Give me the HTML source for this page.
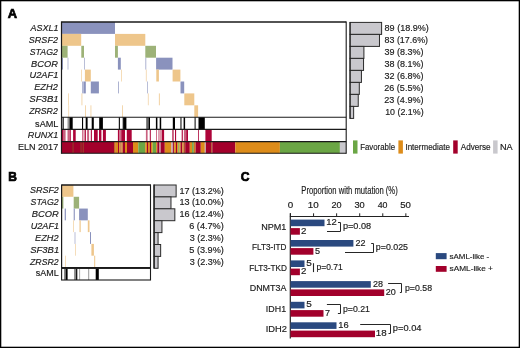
<!DOCTYPE html>
<html><head><meta charset="utf-8"><style>
html,body{margin:0;padding:0;background:#fff;}
svg{display:block;font-family:"Liberation Sans", sans-serif;will-change:transform;}
text{stroke:#1a1a1a;stroke-width:0.16px;paint-order:stroke;}

</style></head><body>
<svg width="520" height="348" viewBox="0 0 520 348">
<rect x="0" y="0" width="520" height="348" fill="#fff"/>
<text x="7.80" y="18.40" font-size="12.9" text-anchor="start" font-weight="bold" fill="#000" style="stroke:#000;stroke-width:0.7px">A</text>
<rect x="61.80" y="22.00" width="53.20" height="11.90" fill="#8a92bd" />
<rect x="61.80" y="33.90" width="19.40" height="11.90" fill="#eec68b" />
<rect x="115.00" y="33.90" width="30.30" height="11.90" fill="#eec68b" />
<rect x="61.80" y="45.80" width="5.80" height="11.90" fill="#9db278" />
<rect x="81.30" y="45.80" width="2.70" height="11.90" fill="#9db278" />
<rect x="115.00" y="45.80" width="2.90" height="11.90" fill="#9db278" />
<rect x="145.30" y="45.80" width="10.70" height="11.90" fill="#9db278" />
<rect x="61.80" y="57.70" width="1.00" height="11.90" fill="#7880ae" />
<rect x="67.70" y="57.70" width="0.60" height="11.90" fill="#8a92bd" />
<rect x="84.10" y="57.70" width="0.60" height="11.90" fill="#8a92bd" />
<rect x="117.90" y="57.70" width="2.90" height="11.90" fill="#8a92bd" />
<rect x="145.50" y="57.70" width="0.70" height="11.90" fill="#8a92bd" />
<rect x="156.10" y="57.70" width="16.40" height="11.90" fill="#8a92bd" />
<rect x="81.30" y="69.60" width="0.60" height="11.90" fill="#eec68b" />
<rect x="84.90" y="69.60" width="5.90" height="11.90" fill="#eec68b" />
<rect x="121.40" y="69.60" width="0.60" height="11.90" fill="#eec68b" />
<rect x="145.90" y="69.60" width="0.60" height="11.90" fill="#eec68b" />
<rect x="156.30" y="69.60" width="2.60" height="11.90" fill="#eec68b" />
<rect x="172.60" y="69.60" width="7.80" height="11.90" fill="#eec68b" />
<rect x="82.00" y="81.50" width="1.90" height="11.90" fill="#b3b8d4" />
<rect x="83.90" y="81.50" width="1.90" height="11.90" fill="#8a92bd" />
<rect x="90.80" y="81.50" width="8.10" height="11.90" fill="#8a92bd" />
<rect x="118.20" y="81.50" width="0.70" height="11.90" fill="#8a92bd" />
<rect x="147.30" y="81.50" width="0.60" height="11.90" fill="#8a92bd" />
<rect x="180.50" y="81.50" width="3.70" height="11.90" fill="#8a92bd" />
<rect x="68.00" y="93.40" width="0.60" height="11.90" fill="#eec68b" />
<rect x="81.60" y="93.40" width="0.70" height="11.90" fill="#eec68b" />
<rect x="147.90" y="93.40" width="0.60" height="11.90" fill="#eec68b" />
<rect x="158.90" y="93.40" width="0.80" height="11.90" fill="#eec68b" />
<rect x="184.30" y="93.40" width="10.00" height="11.90" fill="#eec68b" />
<rect x="68.50" y="105.30" width="0.60" height="11.90" fill="#eec68b" />
<rect x="85.00" y="105.30" width="0.70" height="11.90" fill="#eec68b" />
<rect x="90.60" y="105.30" width="0.70" height="11.90" fill="#eec68b" />
<rect x="122.20" y="105.30" width="0.70" height="11.90" fill="#eec68b" />
<rect x="194.30" y="105.30" width="3.80" height="11.90" fill="#eec68b" />
<rect x="61.50" y="117.20" width="0.60" height="12.20" fill="#888" />
<rect x="62.60" y="117.20" width="1.10" height="12.20" fill="#000" />
<rect x="67.50" y="117.20" width="1.10" height="12.20" fill="#999" />
<rect x="68.60" y="117.20" width="1.10" height="12.20" fill="#555" />
<rect x="69.70" y="117.20" width="3.00" height="12.20" fill="#000" />
<rect x="82.00" y="117.20" width="1.10" height="12.20" fill="#000" />
<rect x="85.70" y="117.20" width="1.90" height="12.20" fill="#000" />
<rect x="91.70" y="117.20" width="2.10" height="12.20" fill="#000" />
<rect x="99.20" y="117.20" width="3.70" height="12.20" fill="#000" />
<rect x="118.80" y="117.20" width="1.10" height="12.20" fill="#000" />
<rect x="122.50" y="117.20" width="0.60" height="12.20" fill="#666" />
<rect x="123.10" y="117.20" width="3.30" height="12.20" fill="#000" />
<rect x="146.20" y="117.20" width="2.30" height="12.20" fill="#666" />
<rect x="148.50" y="117.20" width="1.50" height="12.20" fill="#000" />
<rect x="155.90" y="117.20" width="1.50" height="12.20" fill="#000" />
<rect x="159.70" y="117.20" width="1.50" height="12.20" fill="#000" />
<rect x="172.80" y="117.20" width="2.20" height="12.20" fill="#000" />
<rect x="180.20" y="117.20" width="1.50" height="12.20" fill="#555" />
<rect x="183.60" y="117.20" width="1.50" height="12.20" fill="#000" />
<rect x="194.40" y="117.20" width="1.50" height="12.20" fill="#555" />
<rect x="198.50" y="117.20" width="6.30" height="12.20" fill="#000" />
<rect x="61.80" y="129.40" width="1.20" height="12.20" fill="#ad0439" />
<rect x="63.00" y="129.40" width="2.60" height="12.20" fill="#c9607f" />
<rect x="67.50" y="129.40" width="2.20" height="12.20" fill="#c9607f" />
<rect x="69.70" y="129.40" width="1.10" height="12.20" fill="#ad0439" />
<rect x="73.10" y="129.40" width="2.60" height="12.20" fill="#ad0439" />
<rect x="82.00" y="129.40" width="0.90" height="12.20" fill="#c9607f" />
<rect x="82.90" y="129.40" width="1.70" height="12.20" fill="#e6b3c0" />
<rect x="84.60" y="129.40" width="1.40" height="12.20" fill="#b8204f" />
<rect x="87.10" y="129.40" width="2.00" height="12.20" fill="#c9607f" />
<rect x="90.80" y="129.40" width="1.10" height="12.20" fill="#ad0439" />
<rect x="94.00" y="129.40" width="3.70" height="12.20" fill="#ad0439" />
<rect x="99.00" y="129.40" width="2.40" height="12.20" fill="#ad0439" />
<rect x="102.90" y="129.40" width="3.00" height="12.20" fill="#ad0439" />
<rect x="117.90" y="129.40" width="1.40" height="12.20" fill="#ad0439" />
<rect x="119.30" y="129.40" width="1.60" height="12.20" fill="#c9607f" />
<rect x="121.20" y="129.40" width="3.80" height="12.20" fill="#ad0439" />
<rect x="126.80" y="129.40" width="4.90" height="12.20" fill="#ad0439" />
<rect x="145.90" y="129.40" width="1.70" height="12.20" fill="#c9607f" />
<rect x="149.80" y="129.40" width="1.00" height="12.20" fill="#ad0439" />
<rect x="156.00" y="129.40" width="0.90" height="12.20" fill="#c9607f" />
<rect x="158.40" y="129.40" width="1.00" height="12.20" fill="#c9607f" />
<rect x="159.40" y="129.40" width="2.50" height="12.20" fill="#dc98aa" />
<rect x="161.90" y="129.40" width="2.20" height="12.20" fill="#ad0439" />
<rect x="172.00" y="129.40" width="1.90" height="12.20" fill="#c9607f" />
<rect x="175.00" y="129.40" width="1.10" height="12.20" fill="#ad0439" />
<rect x="181.70" y="129.40" width="1.10" height="12.20" fill="#ad0439" />
<rect x="183.90" y="129.40" width="2.30" height="12.20" fill="#c9607f" />
<rect x="186.20" y="129.40" width="1.80" height="12.20" fill="#ad0439" />
<rect x="198.10" y="129.40" width="0.80" height="12.20" fill="#ad0439" />
<rect x="205.40" y="129.40" width="6.30" height="12.20" fill="#ad0439" />
<rect x="61.80" y="141.60" width="52.20" height="11.70" fill="#a3002b" />
<rect x="72.60" y="141.60" width="0.90" height="11.70" fill="#8f4a28" />
<rect x="80.60" y="141.60" width="0.90" height="11.70" fill="#8f4a28" />
<rect x="82.80" y="141.60" width="0.80" height="11.70" fill="#9a5a28" />
<rect x="114.00" y="141.60" width="1.80" height="11.70" fill="#c86a20" />
<rect x="115.80" y="141.60" width="2.20" height="11.70" fill="#dd8c1a" />
<rect x="118.00" y="141.60" width="1.20" height="11.70" fill="#a3002b" />
<rect x="119.20" y="141.60" width="1.20" height="11.70" fill="#dd8c1a" />
<rect x="120.40" y="141.60" width="1.10" height="11.70" fill="#b4502a" />
<rect x="121.50" y="141.60" width="1.20" height="11.70" fill="#dd8c1a" />
<rect x="122.70" y="141.60" width="2.30" height="11.70" fill="#a3002b" />
<rect x="125.00" y="141.60" width="2.00" height="11.70" fill="#dd8c1a" />
<rect x="127.00" y="141.60" width="6.00" height="11.70" fill="#a3002b" />
<rect x="133.00" y="141.60" width="5.30" height="11.70" fill="#dd8c1a" />
<rect x="138.30" y="141.60" width="6.90" height="11.70" fill="#6ba645" />
<rect x="145.20" y="141.60" width="1.70" height="11.70" fill="#dd8c1a" />
<rect x="146.90" y="141.60" width="1.10" height="11.70" fill="#a3002b" />
<rect x="148.00" y="141.60" width="1.80" height="11.70" fill="#dd8c1a" />
<rect x="149.80" y="141.60" width="1.20" height="11.70" fill="#a3002b" />
<rect x="151.00" y="141.60" width="1.70" height="11.70" fill="#dd8c1a" />
<rect x="152.70" y="141.60" width="3.40" height="11.70" fill="#6ba645" />
<rect x="156.10" y="141.60" width="1.20" height="11.70" fill="#dd8c1a" />
<rect x="157.30" y="141.60" width="1.70" height="11.70" fill="#a3002b" />
<rect x="159.00" y="141.60" width="1.70" height="11.70" fill="#c88a9a" />
<rect x="160.70" y="141.60" width="4.10" height="11.70" fill="#a3002b" />
<rect x="164.80" y="141.60" width="6.50" height="11.70" fill="#dd8c1a" />
<rect x="171.30" y="141.60" width="1.80" height="11.70" fill="#c8a0a8" />
<rect x="173.10" y="141.60" width="1.10" height="11.70" fill="#a3002b" />
<rect x="174.20" y="141.60" width="1.80" height="11.70" fill="#dd8c1a" />
<rect x="176.00" y="141.60" width="1.10" height="11.70" fill="#a3002b" />
<rect x="177.10" y="141.60" width="1.20" height="11.70" fill="#dd8c1a" />
<rect x="178.30" y="141.60" width="1.10" height="11.70" fill="#6ba645" />
<rect x="179.40" y="141.60" width="1.20" height="11.70" fill="#dd8c1a" />
<rect x="180.60" y="141.60" width="1.70" height="11.70" fill="#a3002b" />
<rect x="182.30" y="141.60" width="1.20" height="11.70" fill="#dd8c1a" />
<rect x="183.50" y="141.60" width="1.70" height="11.70" fill="#b4502a" />
<rect x="185.20" y="141.60" width="4.60" height="11.70" fill="#a3002b" />
<rect x="189.80" y="141.60" width="2.30" height="11.70" fill="#dd8c1a" />
<rect x="192.10" y="141.60" width="1.70" height="11.70" fill="#6ba645" />
<rect x="193.80" y="141.60" width="1.80" height="11.70" fill="#d07a20" />
<rect x="195.60" y="141.60" width="5.20" height="11.70" fill="#a3002b" />
<rect x="200.80" y="141.60" width="4.00" height="11.70" fill="#dd8c1a" />
<rect x="204.80" y="141.60" width="1.20" height="11.70" fill="#c8a0a8" />
<rect x="206.00" y="141.60" width="5.10" height="11.70" fill="#a3002b" />
<rect x="211.10" y="141.60" width="1.20" height="11.70" fill="#b4502a" />
<rect x="212.30" y="141.60" width="23.00" height="11.70" fill="#a3002b" />
<rect x="235.30" y="141.60" width="44.60" height="11.70" fill="#dd8c1a" />
<rect x="279.90" y="141.60" width="60.00" height="11.70" fill="#6ba645" />
<rect x="339.90" y="141.60" width="6.10" height="11.70" fill="#c9c8cd" />
<line x1="61.50" y1="22.00" x2="346.20" y2="22.00" stroke="#1a1a1a" stroke-width="1.3"/>
<line x1="61.50" y1="117.20" x2="346.20" y2="117.20" stroke="#1a1a1a" stroke-width="1.1"/>
<line x1="61.50" y1="129.40" x2="346.20" y2="129.40" stroke="#1a1a1a" stroke-width="1.1"/>
<line x1="61.50" y1="141.60" x2="346.20" y2="141.60" stroke="#1a1a1a" stroke-width="1.1"/>
<line x1="61.50" y1="153.30" x2="346.20" y2="153.30" stroke="#1a1a1a" stroke-width="1.1"/>
<line x1="61.50" y1="21.40" x2="61.50" y2="153.80" stroke="#1a1a1a" stroke-width="1.2"/>
<line x1="346.20" y1="21.40" x2="346.20" y2="153.80" stroke="#1a1a1a" stroke-width="1.1"/>
<text x="30.62" y="30.80" font-size="8.9" text-anchor="start" font-style="italic" textLength="27.78" lengthAdjust="spacingAndGlyphs" fill="#1a1a1a" >ASXL1</text>
<text x="28.86" y="42.70" font-size="8.9" text-anchor="start" font-style="italic" textLength="29.03" lengthAdjust="spacingAndGlyphs" fill="#1a1a1a" >SRSF2</text>
<text x="29.79" y="54.70" font-size="8.9" text-anchor="start" font-style="italic" textLength="28.05" lengthAdjust="spacingAndGlyphs" fill="#1a1a1a" >STAG2</text>
<text x="31.12" y="66.50" font-size="8.9" text-anchor="start" font-style="italic" textLength="26.81" lengthAdjust="spacingAndGlyphs" fill="#1a1a1a" >BCOR</text>
<text x="29.52" y="78.30" font-size="8.9" text-anchor="start" font-style="italic" textLength="28.84" lengthAdjust="spacingAndGlyphs" fill="#1a1a1a" >U2AF1</text>
<text x="34.21" y="90.30" font-size="8.9" text-anchor="start" font-style="italic" textLength="23.61" lengthAdjust="spacingAndGlyphs" fill="#1a1a1a" >EZH2</text>
<text x="29.37" y="102.20" font-size="8.9" text-anchor="start" font-style="italic" textLength="29.25" lengthAdjust="spacingAndGlyphs" fill="#1a1a1a" >SF3B1</text>
<text x="29.14" y="114.10" font-size="8.9" text-anchor="start" font-style="italic" textLength="28.62" lengthAdjust="spacingAndGlyphs" fill="#1a1a1a" >ZRSR2</text>
<text x="35.08" y="126.50" font-size="8.9" text-anchor="start" textLength="23.30" lengthAdjust="spacingAndGlyphs" fill="#1a1a1a" >sAML</text>
<text x="27.82" y="138.20" font-size="8.9" text-anchor="start" font-style="italic" textLength="30.49" lengthAdjust="spacingAndGlyphs" fill="#1a1a1a" >RUNX1</text>
<text x="17.98" y="150.00" font-size="8.9" text-anchor="start" textLength="40.22" lengthAdjust="spacingAndGlyphs" fill="#1a1a1a" >ELN 2017</text>
<rect x="350.10" y="22.40" width="31.51" height="12.00" fill="#c9c8cd" stroke="#2a2a2a" stroke-width="1"/>
<text x="384.56" y="31.20" font-size="8.6" text-anchor="start" textLength="44.35" lengthAdjust="spacingAndGlyphs" fill="#1a1a1a" >89 (18.9%)</text>
<rect x="350.10" y="34.40" width="29.38" height="12.00" fill="#c9c8cd" stroke="#2a2a2a" stroke-width="1"/>
<text x="384.58" y="42.90" font-size="8.6" text-anchor="start" textLength="43.42" lengthAdjust="spacingAndGlyphs" fill="#1a1a1a" >83 (17.6%)</text>
<rect x="350.10" y="46.40" width="13.81" height="12.00" fill="#c9c8cd" stroke="#2a2a2a" stroke-width="1"/>
<text x="384.58" y="55.00" font-size="8.6" text-anchor="start" textLength="39.00" lengthAdjust="spacingAndGlyphs" fill="#1a1a1a" >39 (8.3%)</text>
<rect x="350.10" y="58.40" width="13.45" height="12.00" fill="#c9c8cd" stroke="#2a2a2a" stroke-width="1"/>
<text x="384.58" y="67.10" font-size="8.6" text-anchor="start" textLength="39.00" lengthAdjust="spacingAndGlyphs" fill="#1a1a1a" >38 (8.1%)</text>
<rect x="350.10" y="70.40" width="11.33" height="12.00" fill="#c9c8cd" stroke="#2a2a2a" stroke-width="1"/>
<text x="384.58" y="79.00" font-size="8.6" text-anchor="start" textLength="39.00" lengthAdjust="spacingAndGlyphs" fill="#1a1a1a" >32 (6.8%)</text>
<rect x="350.10" y="82.40" width="9.20" height="12.00" fill="#c9c8cd" stroke="#2a2a2a" stroke-width="1"/>
<text x="384.28" y="91.20" font-size="8.6" text-anchor="start" textLength="39.26" lengthAdjust="spacingAndGlyphs" fill="#1a1a1a" >26 (5.5%)</text>
<rect x="350.10" y="94.40" width="8.14" height="12.00" fill="#c9c8cd" stroke="#2a2a2a" stroke-width="1"/>
<text x="384.28" y="103.20" font-size="8.6" text-anchor="start" textLength="39.26" lengthAdjust="spacingAndGlyphs" fill="#1a1a1a" >23 (4.9%)</text>
<rect x="350.10" y="106.40" width="3.54" height="12.00" fill="#c9c8cd" stroke="#2a2a2a" stroke-width="1"/>
<text x="385.18" y="114.90" font-size="8.6" text-anchor="start" textLength="38.42" lengthAdjust="spacingAndGlyphs" fill="#1a1a1a" >10 (2.1%)</text>
<line x1="350.00" y1="22.00" x2="350.00" y2="118.80" stroke="#222" stroke-width="1.1"/>
<rect x="353.00" y="140.40" width="4.50" height="13.20" fill="#6ba645" />
<text x="360.15" y="149.60" font-size="8.3" text-anchor="start" textLength="34.93" lengthAdjust="spacingAndGlyphs" fill="#1a1a1a" >Favorable</text>
<rect x="398.40" y="140.40" width="4.50" height="13.20" fill="#dd8c1a" />
<text x="405.41" y="149.60" font-size="8.3" text-anchor="start" textLength="44.63" lengthAdjust="spacingAndGlyphs" fill="#1a1a1a" >Intermediate</text>
<rect x="453.20" y="140.40" width="4.50" height="13.20" fill="#a3002b" />
<text x="460.72" y="149.60" font-size="8.3" text-anchor="start" textLength="29.76" lengthAdjust="spacingAndGlyphs" fill="#1a1a1a" >Adverse</text>
<rect x="493.10" y="140.40" width="4.50" height="13.20" fill="#c9c8cd" />
<text x="500.03" y="149.60" font-size="8.3" text-anchor="start" textLength="12.70" lengthAdjust="spacingAndGlyphs" fill="#1a1a1a" >NA</text>
<text x="8.30" y="181.10" font-size="12.0" text-anchor="start" font-weight="bold" fill="#000" style="stroke:#000;stroke-width:0.7px">B</text>
<rect x="61.90" y="185.00" width="11.50" height="11.78" fill="#eec68b" />
<rect x="61.90" y="196.78" width="1.50" height="11.78" fill="#9db278" />
<rect x="73.70" y="196.78" width="5.40" height="11.78" fill="#9db278" />
<rect x="64.70" y="208.56" width="1.20" height="11.78" fill="#8a92bd" />
<rect x="73.70" y="208.56" width="1.10" height="11.78" fill="#8a92bd" />
<rect x="79.10" y="208.56" width="8.70" height="11.78" fill="#8a92bd" />
<rect x="73.40" y="220.34" width="0.60" height="11.78" fill="#eec68b" />
<rect x="79.50" y="220.34" width="1.20" height="11.78" fill="#eec68b" />
<rect x="87.80" y="220.34" width="1.70" height="11.78" fill="#eec68b" />
<rect x="74.70" y="232.12" width="0.60" height="11.78" fill="#8a92bd" />
<rect x="90.00" y="232.12" width="1.00" height="11.78" fill="#8a92bd" />
<rect x="75.30" y="243.90" width="0.60" height="11.78" fill="#eec68b" />
<rect x="91.40" y="243.90" width="2.50" height="11.78" fill="#eec68b" />
<rect x="65.40" y="255.68" width="0.60" height="11.78" fill="#eec68b" />
<rect x="94.20" y="255.68" width="1.00" height="11.78" fill="#eec68b" />
<rect x="64.00" y="268.40" width="1.60" height="11.60" fill="#888" />
<rect x="65.60" y="268.40" width="2.00" height="11.60" fill="#000" />
<rect x="74.10" y="268.40" width="2.00" height="11.60" fill="#888" />
<rect x="76.10" y="268.40" width="1.20" height="11.60" fill="#000" />
<rect x="79.10" y="268.40" width="1.00" height="11.60" fill="#aaa" />
<rect x="88.20" y="268.40" width="1.00" height="11.60" fill="#999" />
<rect x="95.70" y="268.40" width="3.10" height="11.60" fill="#000" />
<line x1="61.60" y1="185.00" x2="150.50" y2="185.00" stroke="#1a1a1a" stroke-width="1.3"/>
<line x1="61.60" y1="267.46" x2="150.50" y2="267.46" stroke="#1a1a1a" stroke-width="1.1"/>
<line x1="61.60" y1="184.40" x2="61.60" y2="267.96" stroke="#1a1a1a" stroke-width="1.2"/>
<line x1="150.50" y1="184.40" x2="150.50" y2="267.96" stroke="#1a1a1a" stroke-width="1.1"/>
<rect x="61.60" y="268.40" width="88.90" height="11.60" fill="none" stroke="#1a1a1a" stroke-width="1.1"/>
<text x="30.03" y="193.30" font-size="8.9" text-anchor="start" font-style="italic" textLength="28.82" lengthAdjust="spacingAndGlyphs" fill="#1a1a1a" >SRSF2</text>
<text x="30.59" y="205.20" font-size="8.9" text-anchor="start" font-style="italic" textLength="28.08" lengthAdjust="spacingAndGlyphs" fill="#1a1a1a" >STAG2</text>
<text x="31.82" y="217.00" font-size="8.9" text-anchor="start" font-style="italic" textLength="26.96" lengthAdjust="spacingAndGlyphs" fill="#1a1a1a" >BCOR</text>
<text x="30.70" y="228.90" font-size="8.9" text-anchor="start" font-style="italic" textLength="28.35" lengthAdjust="spacingAndGlyphs" fill="#1a1a1a" >U2AF1</text>
<text x="35.08" y="240.80" font-size="8.9" text-anchor="start" font-style="italic" textLength="23.52" lengthAdjust="spacingAndGlyphs" fill="#1a1a1a" >EZH2</text>
<text x="30.26" y="252.70" font-size="8.9" text-anchor="start" font-style="italic" textLength="28.94" lengthAdjust="spacingAndGlyphs" fill="#1a1a1a" >SF3B1</text>
<text x="30.05" y="264.50" font-size="8.9" text-anchor="start" font-style="italic" textLength="28.55" lengthAdjust="spacingAndGlyphs" fill="#1a1a1a" >ZRSR2</text>
<text x="35.79" y="276.40" font-size="8.9" text-anchor="start" textLength="22.88" lengthAdjust="spacingAndGlyphs" fill="#1a1a1a" >sAML</text>
<rect x="154.20" y="185.00" width="21.93" height="11.90" fill="#c9c8cd" stroke="#2a2a2a" stroke-width="1"/>
<text x="179.48" y="193.50" font-size="8.6" text-anchor="start" textLength="44.35" lengthAdjust="spacingAndGlyphs" fill="#1a1a1a" >17 (13.2%)</text>
<rect x="154.20" y="196.90" width="16.77" height="11.90" fill="#c9c8cd" stroke="#2a2a2a" stroke-width="1"/>
<text x="179.48" y="205.40" font-size="8.6" text-anchor="start" textLength="44.35" lengthAdjust="spacingAndGlyphs" fill="#1a1a1a" >13 (10.0%)</text>
<rect x="154.20" y="208.80" width="20.64" height="11.90" fill="#c9c8cd" stroke="#2a2a2a" stroke-width="1"/>
<text x="179.48" y="217.30" font-size="8.6" text-anchor="start" textLength="44.35" lengthAdjust="spacingAndGlyphs" fill="#1a1a1a" >16 (12.4%)</text>
<rect x="154.20" y="220.70" width="7.74" height="11.90" fill="#c9c8cd" stroke="#2a2a2a" stroke-width="1"/>
<text x="189.19" y="229.20" font-size="8.6" text-anchor="start" textLength="34.63" lengthAdjust="spacingAndGlyphs" fill="#1a1a1a" >6 (4.7%)</text>
<rect x="154.20" y="232.60" width="3.87" height="11.90" fill="#c9c8cd" stroke="#2a2a2a" stroke-width="1"/>
<text x="189.65" y="241.10" font-size="8.6" text-anchor="start" textLength="34.18" lengthAdjust="spacingAndGlyphs" fill="#1a1a1a" >3 (2.3%)</text>
<rect x="154.20" y="244.50" width="6.45" height="11.90" fill="#c9c8cd" stroke="#2a2a2a" stroke-width="1"/>
<text x="189.28" y="253.00" font-size="8.6" text-anchor="start" textLength="34.54" lengthAdjust="spacingAndGlyphs" fill="#1a1a1a" >5 (3.9%)</text>
<rect x="154.20" y="256.40" width="3.87" height="11.90" fill="#c9c8cd" stroke="#2a2a2a" stroke-width="1"/>
<text x="189.65" y="264.90" font-size="8.6" text-anchor="start" textLength="34.18" lengthAdjust="spacingAndGlyphs" fill="#1a1a1a" >3 (2.3%)</text>
<line x1="154.00" y1="184.60" x2="154.00" y2="268.50" stroke="#222" stroke-width="1.4"/>
<text x="240.70" y="181.30" font-size="12.1" text-anchor="start" font-weight="bold" fill="#000" style="stroke:#000;stroke-width:0.7px">C</text>
<text x="301.32" y="193.70" font-size="10.2" text-anchor="start" textLength="96.39" lengthAdjust="spacingAndGlyphs" fill="#1a1a1a" >Proportion with mutation (%)</text>
<text x="287.76" y="207.60" font-size="8.4" text-anchor="start" textLength="5.49" lengthAdjust="spacingAndGlyphs" fill="#1a1a1a" >0</text>
<line x1="290.50" y1="213.30" x2="290.50" y2="216.50" stroke="#222" stroke-width="1.0"/>
<text x="307.89" y="207.60" font-size="8.4" text-anchor="start" textLength="10.95" lengthAdjust="spacingAndGlyphs" fill="#1a1a1a" >10</text>
<line x1="313.57" y1="213.30" x2="313.57" y2="216.50" stroke="#222" stroke-width="1.0"/>
<text x="331.41" y="207.60" font-size="8.4" text-anchor="start" textLength="10.09" lengthAdjust="spacingAndGlyphs" fill="#1a1a1a" >20</text>
<line x1="336.64" y1="213.30" x2="336.64" y2="216.50" stroke="#222" stroke-width="1.0"/>
<text x="354.42" y="207.60" font-size="8.4" text-anchor="start" textLength="10.32" lengthAdjust="spacingAndGlyphs" fill="#1a1a1a" >30</text>
<line x1="359.71" y1="213.30" x2="359.71" y2="216.50" stroke="#222" stroke-width="1.0"/>
<text x="377.70" y="207.60" font-size="8.4" text-anchor="start" textLength="9.86" lengthAdjust="spacingAndGlyphs" fill="#1a1a1a" >40</text>
<line x1="382.78" y1="213.30" x2="382.78" y2="216.50" stroke="#222" stroke-width="1.0"/>
<text x="400.15" y="207.60" font-size="8.4" text-anchor="start" textLength="10.73" lengthAdjust="spacingAndGlyphs" fill="#1a1a1a" >50</text>
<line x1="405.85" y1="213.30" x2="405.85" y2="216.50" stroke="#222" stroke-width="1.0"/>
<line x1="289.90" y1="216.50" x2="409.00" y2="216.50" stroke="#222" stroke-width="1.2"/>
<line x1="290.30" y1="213.30" x2="290.30" y2="338.60" stroke="#222" stroke-width="1.2"/>
<text x="261.21" y="229.50" font-size="8.6" text-anchor="start" textLength="25.21" lengthAdjust="spacingAndGlyphs" fill="#1a1a1a" >NPM1</text>
<text x="252.04" y="250.00" font-size="8.6" text-anchor="start" textLength="34.39" lengthAdjust="spacingAndGlyphs" fill="#1a1a1a" >FLT3-ITD</text>
<text x="249.18" y="270.50" font-size="8.6" text-anchor="start" textLength="37.68" lengthAdjust="spacingAndGlyphs" fill="#1a1a1a" >FLT3-TKD</text>
<text x="249.70" y="291.20" font-size="8.6" text-anchor="start" textLength="36.68" lengthAdjust="spacingAndGlyphs" fill="#1a1a1a" >DNMT3A</text>
<text x="265.89" y="311.80" font-size="8.6" text-anchor="start" textLength="20.23" lengthAdjust="spacingAndGlyphs" fill="#1a1a1a" >IDH1</text>
<text x="265.79" y="332.00" font-size="8.6" text-anchor="start" textLength="21.24" lengthAdjust="spacingAndGlyphs" fill="#1a1a1a" >IDH2</text>
<rect x="290.50" y="219.60" width="34.00" height="6.60" fill="#2a497f" />
<rect x="290.50" y="228.10" width="9.40" height="6.60" fill="#a2002b" />
<text x="326.29" y="225.20" font-size="8.5" text-anchor="start" textLength="10.53" lengthAdjust="spacingAndGlyphs" fill="#1a1a1a" >12</text>
<text x="301.13" y="233.90" font-size="8.5" text-anchor="start" textLength="5.43" lengthAdjust="spacingAndGlyphs" fill="#1a1a1a" >2</text>
<rect x="290.50" y="240.00" width="62.90" height="6.60" fill="#2a497f" />
<rect x="290.50" y="248.10" width="22.90" height="6.60" fill="#a2002b" />
<text x="355.41" y="245.60" font-size="8.5" text-anchor="start" textLength="10.00" lengthAdjust="spacingAndGlyphs" fill="#1a1a1a" >22</text>
<text x="314.97" y="253.90" font-size="8.5" text-anchor="start" textLength="5.08" lengthAdjust="spacingAndGlyphs" fill="#1a1a1a" >5</text>
<rect x="290.50" y="260.40" width="14.00" height="6.60" fill="#2a497f" />
<rect x="290.50" y="268.60" width="9.40" height="6.60" fill="#a2002b" />
<text x="306.21" y="266.00" font-size="8.5" text-anchor="start" textLength="5.56" lengthAdjust="spacingAndGlyphs" fill="#1a1a1a" >5</text>
<text x="301.13" y="274.40" font-size="8.5" text-anchor="start" textLength="5.43" lengthAdjust="spacingAndGlyphs" fill="#1a1a1a" >2</text>
<rect x="290.50" y="281.10" width="80.30" height="6.60" fill="#2a497f" />
<rect x="290.50" y="289.40" width="93.70" height="6.60" fill="#a2002b" />
<text x="372.97" y="286.70" font-size="8.5" text-anchor="start" textLength="10.03" lengthAdjust="spacingAndGlyphs" fill="#1a1a1a" >28</text>
<text x="385.66" y="295.20" font-size="8.5" text-anchor="start" textLength="10.04" lengthAdjust="spacingAndGlyphs" fill="#1a1a1a" >20</text>
<rect x="290.50" y="301.80" width="14.00" height="6.60" fill="#2a497f" />
<rect x="290.50" y="310.10" width="33.00" height="6.60" fill="#a2002b" />
<text x="306.21" y="307.40" font-size="8.5" text-anchor="start" textLength="5.56" lengthAdjust="spacingAndGlyphs" fill="#1a1a1a" >5</text>
<text x="325.10" y="315.90" font-size="8.5" text-anchor="start" textLength="5.05" lengthAdjust="spacingAndGlyphs" fill="#1a1a1a" >7</text>
<rect x="290.50" y="322.30" width="46.00" height="6.60" fill="#2a497f" />
<rect x="290.50" y="330.60" width="84.50" height="6.60" fill="#a2002b" />
<text x="338.30" y="327.90" font-size="8.5" text-anchor="start" textLength="10.36" lengthAdjust="spacingAndGlyphs" fill="#1a1a1a" >16</text>
<text x="375.85" y="336.40" font-size="8.5" text-anchor="start" textLength="10.87" lengthAdjust="spacingAndGlyphs" fill="#1a1a1a" >18</text>
<path d="M338.00 222.50 H340.50 V231.50 H327.00" fill="none" stroke="#262626" stroke-width="1"/>
<text x="342.90" y="229.30" font-size="8.6" text-anchor="start" textLength="28.21" lengthAdjust="spacingAndGlyphs" fill="#1a1a1a" >p=0.08</text>
<path d="M371.20 243.50 H373.50 V252.50 H345.00" fill="none" stroke="#262626" stroke-width="1"/>
<text x="375.80" y="250.20" font-size="8.6" text-anchor="start" textLength="32.26" lengthAdjust="spacingAndGlyphs" fill="#1a1a1a" >p=0.025</text>
<line x1="313.50" y1="263.20" x2="313.50" y2="272.10" stroke="#262626" stroke-width="1.1"/>
<text x="316.46" y="270.40" font-size="8.6" text-anchor="start" textLength="26.19" lengthAdjust="spacingAndGlyphs" fill="#1a1a1a" >p=0.71</text>
<path d="M388.10 283.50 H401.50 V292.50 H399.90" fill="none" stroke="#262626" stroke-width="1"/>
<text x="404.95" y="290.60" font-size="8.6" text-anchor="start" textLength="27.11" lengthAdjust="spacingAndGlyphs" fill="#1a1a1a" >p=0.58</text>
<path d="M326.90 304.50 H340.50 V313.50 H337.90" fill="none" stroke="#262626" stroke-width="1"/>
<text x="342.95" y="311.60" font-size="8.6" text-anchor="start" textLength="26.96" lengthAdjust="spacingAndGlyphs" fill="#1a1a1a" >p=0.21</text>
<path d="M360.20 324.50 H390.50 V333.50 H388.50" fill="none" stroke="#262626" stroke-width="1"/>
<text x="392.81" y="331.40" font-size="8.6" text-anchor="start" textLength="28.68" lengthAdjust="spacingAndGlyphs" fill="#1a1a1a" >p=0.04</text>
<rect x="435.80" y="253.10" width="10.80" height="6.10" fill="#2a497f" />
<text x="449.62" y="258.80" font-size="7.9" text-anchor="start" textLength="39.63" lengthAdjust="spacingAndGlyphs" fill="#1a1a1a" >sAML-like -</text>
<rect x="435.80" y="266.00" width="10.80" height="5.80" fill="#a2002b" />
<text x="449.63" y="271.30" font-size="7.9" text-anchor="start" textLength="43.26" lengthAdjust="spacingAndGlyphs" fill="#1a1a1a" >sAML-like +</text>
<rect x="0" y="0" width="520" height="348" fill="none" stroke="#000" stroke-width="2.6"/>
</svg>
</body></html>
